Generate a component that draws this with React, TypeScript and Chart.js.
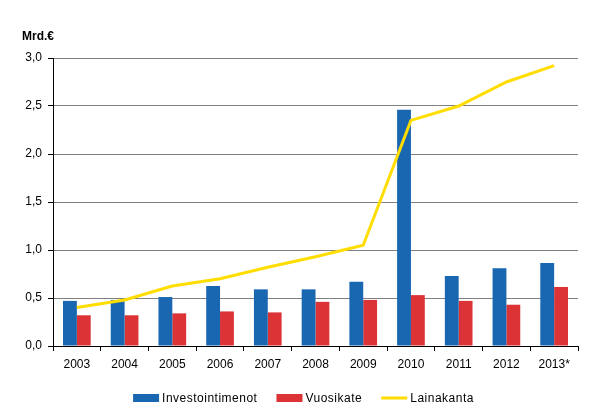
import React, { useEffect, useRef } from "react";
import { Chart, registerables } from "chart.js";

Chart.register(...registerables);

const categories = ["2003", "2004", "2005", "2006", "2007", "2008", "2009", "2010", "2011", "2012", "2013*"];
const investointimenot = [0.47, 0.48, 0.51, 0.625, 0.59, 0.59, 0.67, 2.46, 0.73, 0.81, 0.865];
const vuosikate = [0.32, 0.32, 0.34, 0.36, 0.35, 0.46, 0.48, 0.53, 0.47, 0.43, 0.615];
const lainakanta = [0.4, 0.48, 0.625, 0.7, 0.82, 0.93, 1.05, 2.35, 2.5, 2.75, 2.92];
const seriesNames = ["Investointimenot", "Vuosikate", "Lainakanta"];
const unitLabel = "Mrd.€";

const BLUE = "#1a67b1";
const RED = "#dc3336";
const YELLOW = "#ffdd00";
const FONT = "'Liberation Sans', Arial, sans-serif";

export default function App() {
  const ref = useRef<HTMLCanvasElement | null>(null);

  useEffect(() => {
    document.body.style.margin = "0";
    const canvas = ref.current;
    if (!canvas) return;

    const extras = {
      id: "extras",
      afterDraw(chart: any) {
        const ctx = chart.ctx;
        ctx.save();
        ctx.fillStyle = "#000";
        ctx.font = `bold 12px ${FONT}`;
        ctx.textBaseline = "middle";
        ctx.textAlign = "left";
        ctx.fillText(unitLabel, 22, 37);

        // legend
        ctx.font = `12px ${FONT}`;
        try {
          (ctx as any).letterSpacing = "0.5px";
        } catch (e) {}
        const items = chart.data.datasets.map((d: any) => ({
          label: d.label,
          color: d.type === "line" ? d.borderColor : d.backgroundColor,
          isLine: d.type === "line",
        }));
        const boxW = 26;
        const gapText = 3;
        const gapItem = 19;
        let total = 0;
        items.forEach((it: any, i: number) => {
          total += boxW + gapText + ctx.measureText(it.label).width;
          if (i < items.length - 1) total += gapItem;
        });
        let x = chart.width / 2 - total / 2;
        const y = 398;
        items.forEach((it: any) => {
          ctx.fillStyle = it.color;
          if (it.isLine) ctx.fillRect(x, y - 1.5, boxW, 3);
          else ctx.fillRect(x, y - 4, boxW, 8);
          x += boxW + gapText;
          ctx.fillStyle = "#000";
          ctx.fillText(it.label, x, y + 1);
          x += ctx.measureText(it.label).width + gapItem;
        });
        ctx.restore();
      },
    };

    const chart = new Chart(canvas, {
      type: "bar",
      data: {
        labels: categories,
        datasets: [
          {
            type: "bar",
            label: seriesNames[0],
            data: investointimenot,
            backgroundColor: BLUE,
            order: 1,
            categoryPercentage: 0.58,
            barPercentage: 1.0,
          } as any,
          {
            type: "bar",
            label: seriesNames[1],
            data: vuosikate,
            backgroundColor: RED,
            order: 1,
            categoryPercentage: 0.58,
            barPercentage: 1.0,
          } as any,
          {
            type: "line",
            label: seriesNames[2],
            data: lainakanta,
            borderColor: YELLOW,
            backgroundColor: YELLOW,
            borderWidth: 3,
            pointRadius: 0,
            tension: 0,
            order: 0,
          } as any,
        ],
      },
      options: {
        animation: false,
        responsive: false,
        maintainAspectRatio: false,
        layout: { padding: { left: 0, right: 29, top: 58, bottom: 0 } },
        plugins: {
          legend: { display: false },
          tooltip: { enabled: false },
          title: { display: false },
        },
        scales: {
          x: {
            offset: true,
            grid: {
              offset: true,
              drawOnChartArea: false,
              drawTicks: true,
              tickLength: 5,
              color: "#000",
            },
            border: { color: "#000", width: 1 },
            ticks: { color: "#000", font: { family: FONT, size: 12 }, padding: 6, maxRotation: 0 },
            afterFit(scale: any) {
              scale.height = 72;
            },
          },
          y: {
            min: 0,
            max: 3,
            ticks: {
              stepSize: 0.5,
              color: "#000",
              font: { family: FONT, size: 12 },
              padding: 6,
              callback: (v: any) => Number(v).toFixed(1).replace(".", ","),
            },
            grid: {
              color: "#808080",
              tickColor: "#000",
              tickLength: 5,
              lineWidth: 1,
            },
            border: { color: "#000", width: 1 },
            afterFit(scale: any) {
              scale.width = 53;
            },
          },
        },
      },
      plugins: [extras],
    });

    return () => chart.destroy();
  }, []);

  return (
    <div style={{ position: "absolute", left: 0, top: 0, width: 607, height: 418 }}>
      <canvas ref={ref} width={607} height={418} style={{ width: 607, height: 418 }} />
    </div>
  );
}
